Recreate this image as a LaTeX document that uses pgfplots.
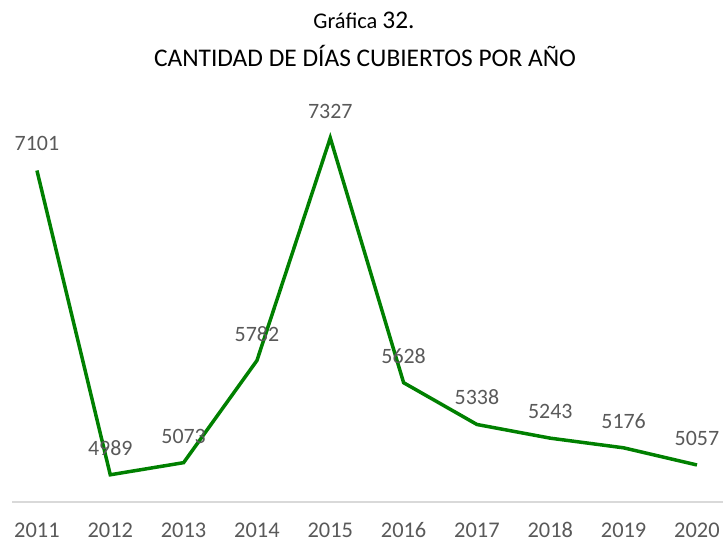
\documentclass[border=0pt]{standalone}
\usepackage{pgfplots}
\pgfplotsset{compat=1.18}
\usepackage{fontspec}
\setmainfont{Carlito}
\definecolor{linegreen}{RGB}{0,128,0}
\definecolor{labgray}{RGB}{89,89,89}
\definecolor{axgray}{RGB}{217,217,217}
\begin{document}
\begin{tikzpicture}[x=1bp,y=1bp]
\useasboundingbox (0,0) rectangle (723,543);
\node[font=\fontsize{22.5}{26}\selectfont, text=black, anchor=base] at (364,514) {Gráfica {\fontsize{25.5}{30}\selectfont 32.}};
\node[font=\fontsize{25.5}{30}\selectfont, text=black, anchor=base] at (365,476) {CANTIDAD DE DÍAS CUBIERTOS POR AÑO};
\begin{axis}[
  at={(12bp,41bp)}, anchor=south west,
  scale only axis, width=710.6bp, height=389bp,
  xmin=-0.34, xmax=9.35, ymin=4800, ymax=7500,
  axis y line=none,
  axis x line*=bottom,
  x axis line style={axgray, line width=1.2bp, -},
  xtick={0,...,9},
  xticklabels={2011,2012,2013,2014,2015,2016,2017,2018,2019,2020},
  major tick length=0pt,
  xticklabel style={font=\fontsize{22.5}{26}\selectfont, text=labgray, anchor=base, inner sep=0pt, yshift=-35.5bp},
  nodes near coords,
  nodes near coords style={font=\fontsize{22}{26}\selectfont, text=labgray, anchor=base, yshift=19.5bp,
    /pgf/number format/assume math mode=true, /pgf/number format/1000 sep={}},
  point meta=explicit,
  clip=false,
]
\addplot[linegreen, line width=3.5bp, line join=miter, mark=none] table[meta=v] {
x y v
0 7101 7101
1 4989 4989
2 5073 5073
3 5782 5782
4 7327 7327
5 5628 5628
6 5338 5338
7 5243 5243
8 5176 5176
9 5057 5057
};
\end{axis}
\end{tikzpicture}
\end{document}
